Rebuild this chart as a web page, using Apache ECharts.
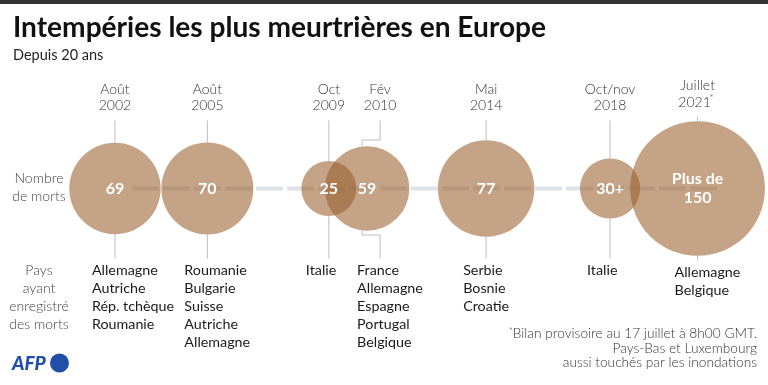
<!DOCTYPE html>
<html><head><meta charset="utf-8">
<script src="https://cdn.jsdelivr.net/npm/echarts@6/dist/echarts.min.js"></script>
<style>html,body{margin:0;padding:0;background:#fff}#c{width:768px;height:385px}</style>
</head><body><div id="c"></div>
<script>
// ---- data ----
const months = ['Août', 'Août', 'Oct', 'Fév', 'Mai', 'Oct/nov', 'Juillet'];
const years = ['2002', '2005', '2009', '2010', '2014', '2018', '2021*'];
const timelinePos = [2002.6, 2005.62, 2009.59, 2010.84, 2014.73, 2018.78, 2021.64];
const deaths = [69, 70, 25, 59, 77, 30, 150];
const deathLabels = ['69', '70', '25', '59', '77', '30+', 'Plus de\n150'];
const countries = [
  ['Allemagne', 'Autriche', 'Rép. tchèque', 'Roumanie'],
  ['Roumanie', 'Bulgarie', 'Suisse', 'Autriche', 'Allemagne'],
  ['Italie'],
  ['France', 'Allemagne', 'Espagne', 'Portugal', 'Belgique'],
  ['Serbie', 'Bosnie', 'Croatie'],
  ['Italie'],
  ['Allemagne', 'Belgique']
];

// ---- layout / style ----
const FONT = "'Source Sans Pro', Lato, 'Open Sans', sans-serif";
const K = 5.5;
const radius = v => K * Math.sqrt(v);
const labelNudge = {3: 13};
const bubbleColor = 'rgba(153,96,46,0.58)';
const lineColor = '#bdbdbd';

const chart = echarts.init(document.getElementById('c'), null, {renderer: 'canvas'});

const scatterData = deaths.map((v, i) => [timelinePos[i], 0, v, i]);
const customData = timelinePos.map((p, i) => [p, 0, i]);

function renderItem(params, api) {
  const i = params.dataIndex;
  const pt = api.coord([api.value(0), 0]);
  const x = pt[0], cy = pt[1];
  const r = radius(deaths[i]);
  const big = r > 55;
  const nudge = labelNudge[i] || 0;
  const lx = x + nudge;
  const lift = big ? 3.5 : 0;
  const children = [];
  const ls = {stroke: lineColor, lineWidth: 1, fill: null};
  const topY = cy - 68 - (big ? 4 : 0);
  const botY = cy + 70 + (big ? 2 : 0);
  if (nudge) {
    const bx = x - 5;
    const dy = Math.sqrt(r * r - 25);
    children.push({type: 'polyline', shape: {points: [[lx, topY], [lx, cy - 48.5], [bx, cy - 48.5], [bx, cy - dy]]}, style: ls});
    children.push({type: 'polyline', shape: {points: [[bx, cy + dy], [bx, cy + 46.5], [lx, cy + 46.5], [lx, botY]]}, style: ls});
  } else {
    children.push({type: 'line', shape: {x1: x, y1: topY, x2: x, y2: cy - r}, style: ls});
    children.push({type: 'line', shape: {x1: x, y1: cy + r, x2: x, y2: botY}, style: ls});
  }
  // date labels
  children.push({type: 'text', style: {text: months[i], x: lx, y: cy - 99.5 - lift, align: 'center', verticalAlign: 'middle', font: '300 14px ' + FONT, fill: '#333'}});
  let yr = years[i];
  if (yr.endsWith('*')) {
    yr = yr.slice(0, -1);
    children.push({type: 'text', style: {text: yr, x: lx - 3, y: cy - 83 - lift, align: 'center', verticalAlign: 'middle', font: '300 14px ' + FONT, fill: '#333'}});
    children.push({type: 'text', style: {text: '*', x: lx + 12, y: cy - 87 - lift, align: 'left', verticalAlign: 'middle', font: '300 10px ' + FONT, fill: '#333'}});
  } else {
    children.push({type: 'text', style: {text: yr, x: lx, y: cy - 83 - lift, align: 'center', verticalAlign: 'middle', font: '300 14px ' + FONT, fill: '#333'}});
  }
  // countries
  countries[i].forEach((c, j) => {
    children.push({type: 'text', style: {text: c, x: lx - 23, y: cy + 81.5 + (big ? 2 : 0) + j * 18.2, align: 'left', verticalAlign: 'middle', font: '400 14.3px ' + FONT, fill: '#1a1a1a'}});
  });
  return {type: 'group', children: children};
}

function renderTimeline(params, api) {
  if (params.dataIndex !== 0) return null;
  const a = api.coord([timelinePos[0], 0]);
  const b = api.coord([timelinePos[timelinePos.length - 1], 0]);
  return {type: 'line', shape: {x1: a[0] + 17, y1: a[1], x2: b[0] + 20, y2: b[1]},
    style: {stroke: '#dde3e6', lineWidth: 4, lineDash: [27, 4]}};
}

const option = {
  animation: false,
  grid: {left: 35.4, right: 28.8, top: 0, bottom: 8},
  xAxis: {type: 'value', min: 2000, max: 2023, show: false},
  yAxis: {type: 'value', min: -1, max: 1, show: false},
  graphic: [
    {type: 'rect', shape: {x: 0, y: 0, width: 768, height: 4}, style: {fill: '#333'}},
    {type: 'text', style: {text: 'Intempéries les plus meurtrières en Europe', x: 13, y: 13.5, align: 'left', verticalAlign: 'top', font: 'bold 28.1px ' + FONT, fill: '#111'}},
    {type: 'text', style: {text: 'Depuis 20 ans', x: 13, y: 55.5, align: 'left', verticalAlign: 'middle', font: '400 14.5px ' + FONT, fill: '#222'}},
    {type: 'text', style: {text: 'Nombre\nde morts', x: 39, y: 187.5, align: 'center', verticalAlign: 'middle', lineHeight: 18.4, font: '300 14px ' + FONT, fill: '#444'}},
    {type: 'text', style: {text: 'Pays\nayant\nenregistré\ndes morts', x: 39, y: 297.2, align: 'center', verticalAlign: 'middle', lineHeight: 18.1, font: '300 14px ' + FONT, fill: '#444'}},
    {type: 'text', style: {text: '{s|*}Bilan provisoire au 17 juillet à 8h00 GMT.', x: 757, y: 334, align: 'right', verticalAlign: 'middle', font: '300 13.7px ' + FONT, fill: '#333',
      rich: {s: {fontSize: 9, verticalAlign: 'top', fontFamily: FONT, fontWeight: 300, fill: '#333'}}}},
    {type: 'text', style: {text: 'Pays-Bas et Luxembourg', x: 757, y: 348.7, align: 'right', verticalAlign: 'middle', font: '300 13.7px ' + FONT, fill: '#333'}},
    {type: 'text', style: {text: 'aussi touchés par les inondations', x: 757, y: 362.7, align: 'right', verticalAlign: 'middle', font: '300 13.7px ' + FONT, fill: '#333'}},
    {type: 'text', style: {text: 'AFP', x: 12, y: 363.5, align: 'left', verticalAlign: 'middle', font: 'italic 900 19px ' + FONT, fill: '#1f4fa8'}},
    {type: 'circle', shape: {cx: 59.5, cy: 363, r: 9.5}, style: {fill: '#1f4fa8'}}
  ],
  series: [
    {type: 'custom', renderItem: renderTimeline, data: customData, z: 1, silent: true},
    {type: 'custom', renderItem: renderItem, data: customData, z: 1, silent: true},
    {type: 'scatter', data: scatterData, z: 3, silent: true,
     symbolSize: v => 2 * radius(v[2]),
     itemStyle: {color: bubbleColor, opacity: 1},
     label: {show: true, position: 'inside', formatter: p => deathLabels[p.data[3]],
       color: '#fff', fontFamily: FONT, fontWeight: 'bold', fontSize: 16, lineHeight: 19}}
  ]
};
chart.setOption(option);
</script>
</body></html>
